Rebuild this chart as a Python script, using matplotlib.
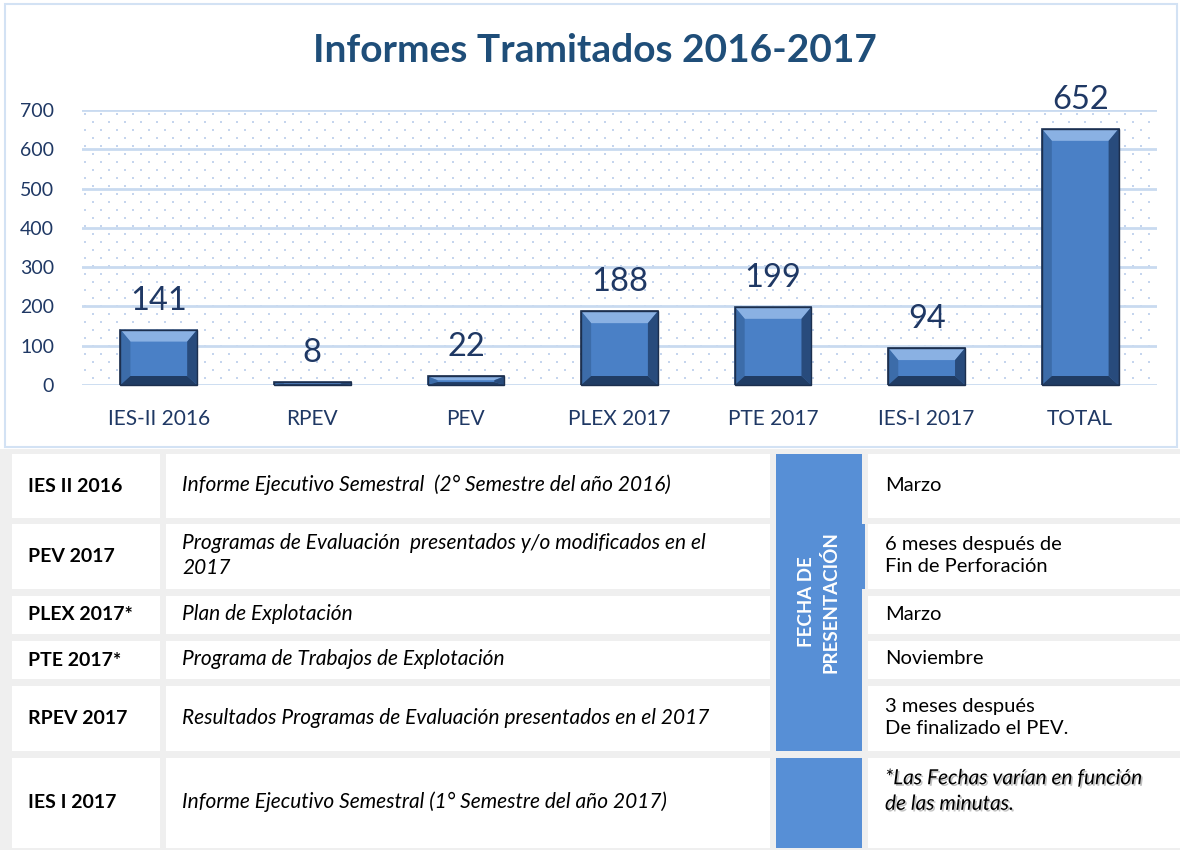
import matplotlib
matplotlib.use("Agg")
import matplotlib.pyplot as plt
import numpy as np
from matplotlib.patches import Rectangle, Polygon
from matplotlib.transforms import IdentityTransform
import matplotlib.patheffects as pe

plt.rcParams['font.family'] = ['Lato', 'DejaVu Sans']

# ---- data ----
categories = ["IES-II 2016", "RPEV", "PEV", "PLEX 2017", "PTE 2017", "IES-I 2017", "TOTAL"]
values = [141, 8, 22, 188, 199, 94, 652]
yticks = [0, 100, 200, 300, 400, 500, 600, 700]
title = "Informes Tramitados 2016-2017"

codes = ["IES II 2016", "PEV 2017", "PLEX 2017*", "PTE 2017*", "RPEV 2017", "IES I 2017"]
descriptions = [
    "Informe Ejecutivo Semestral  (2° Semestre del año 2016)",
    "Programas de Evaluación  presentados y/o modificados en el\n2017",
    "Plan de Explotación",
    "Programa de Trabajos de Explotación",
    "Resultados Programas de Evaluación presentados en el 2017",
    "Informe Ejecutivo Semestral (1° Semestre del año 2017)",
]
dates = ["Marzo", "6 meses después de\nFin de Perforación", "Marzo", "Noviembre",
         "3 meses después\nDe finalizado el PEV.", "*Las Fechas varían en función\nde las minutas."]
side_label = "FECHA DE\nPRESENTACIÓN"

W, H = 1180, 850
fig = plt.figure(figsize=(W / 100, H / 100), dpi=100)
fig.patch.set_facecolor("white")

navy = "#1F3864"

# ---- table / background axes (pixel coordinates) ----
tax = fig.add_axes([0, 0, 1, 1], zorder=0)
tax.set_xlim(0, W)
tax.set_ylim(H, 0)
tax.axis("off")

# chart border
tax.add_patch(Rectangle((5, 4), 1172, 443, facecolor="white", edgecolor="#D3E2F4", lw=1.5))
# table background
tax.add_patch(Rectangle((0, 449), W, H - 449, facecolor="#EFEFEF", edgecolor="none"))

row_tops = [454, 524, 596, 641, 686, 758]
row_bots = [518, 589, 634, 679, 751, 848]
cols = [(12, 160), (166, 770), (868, 1180)]
for t, b in zip(row_tops, row_bots):
    for x0, x1 in cols:
        tax.add_patch(Rectangle((x0, t), x1 - x0, b - t, facecolor="white", edgecolor="none"))

blue = "#578FD6"
tax.add_patch(Rectangle((776, 454), 86, 751 - 454, facecolor=blue, edgecolor="none"))
tax.add_patch(Rectangle((776, 524), 89, 589 - 524, facecolor=blue, edgecolor="none"))
tax.add_patch(Rectangle((776, 758), 86, 848 - 758, facecolor=blue, edgecolor="none"))
tax.text(819, 602, side_label, rotation=90, ha="center", va="center", color="white",
         fontsize=13.5, fontweight="bold", linespacing=1.4, multialignment="center")

for i, (t, b) in enumerate(zip(row_tops, row_bots)):
    yc = (t + b) / 2
    tax.text(28, yc, codes[i], ha="left", va="center", fontsize=14, fontweight="bold", color="black")
    tax.text(182, yc - 1, descriptions[i], ha="left", va="center", fontsize=15, style="italic",
             color="black", linespacing=1.35)
    if i == len(codes) - 1:
        tax.text(885, t + 33, dates[i], ha="left", va="center", fontsize=15, style="italic",
                 color="black", linespacing=1.35,
                 path_effects=[pe.withSimplePatchShadow(offset=(1.2, -1.2), shadow_rgbFace="#999999", alpha=0.6)])
    else:
        tax.text(885, yc - 1, dates[i], ha="left", va="center", fontsize=14.5, color="black", linespacing=1.4)

# ---- bar chart ----
left, right, top, bottom = 82, 1157, 110, 385
ax = fig.add_axes([left / W, 1 - bottom / H, (right - left) / W, (bottom - top) / H], zorder=2)
ax.set_facecolor("white")
x = np.arange(len(categories))
ax.set_xlim(-0.5, len(categories) - 0.5)
ax.set_ylim(0, 700)

# dotted background pattern (decoration, in axes fractions)
pw, ph = right - left, bottom - top
dots_x, dots_y = [], []
for k, yy in enumerate(np.arange(4, ph, 8)):
    off = 0 if k % 2 == 0 else 8
    for xx in np.arange(off + 3, pw, 16):
        dots_x.append(xx / pw)
        dots_y.append(1 - yy / ph)
ax.scatter(dots_x, dots_y, s=2.5, marker="s", color="#C5D5EE", linewidths=0,
           transform=ax.transAxes, zorder=0.5, clip_on=True)

ax.set_yticks(yticks)
ax.grid(axis="y", color="#C9DAF0", lw=2, zorder=1)
ax.set_axisbelow(True)
for s in ax.spines.values():
    s.set_visible(False)
ax.tick_params(length=0, labelcolor=navy)
ax.tick_params(axis="y", pad=20, labelsize=14)
ax.tick_params(axis="x", pad=17, labelsize=15)
ax.set_xticks(x)
ax.set_xticklabels(categories)

bw = 0.5
bars = ax.bar(x, values, width=bw, color="#4A80C6", edgecolor="#1C2F4E", lw=1.2, zorder=3)

fig.canvas.draw()
for xi, v in zip(x, values):
    (px0, py0) = ax.transData.transform((xi - bw / 2, 0))
    (px1, py1) = ax.transData.transform((xi + bw / 2, v))
    h = py1 - py0
    b = min(12.0, h * 0.45)
    bs = min(10.0, (px1 - px0) * 0.2)
    ix0, ix1 = px0 + bs, px1 - bs
    iy0, iy1 = py0 + b * 0.75, py1 - b
    faces = [
        ([(px0, py1), (px1, py1), (ix1, iy1), (ix0, iy1)], "#8AB1E3"),  # top
        ([(px0, py0), (px0, py1), (ix0, iy1), (ix0, iy0)], "#3C6CA9"),  # left
        ([(px1, py0), (px1, py1), (ix1, iy1), (ix1, iy0)], "#284B7C"),  # right
        ([(px0, py0), (px1, py0), (ix1, iy0), (ix0, iy0)], "#203C64"),  # bottom
    ]
    for pts, c in faces:
        fig.add_artist(Polygon(pts, closed=True, facecolor=c, edgecolor="none",
                               transform=IdentityTransform(), zorder=4))
    fig.add_artist(Rectangle((px0, py0), px1 - px0, h, facecolor="none", edgecolor="#1C2F4E",
                             lw=1.0, transform=IdentityTransform(), zorder=5))
    ax.annotate(str(v), (xi, v), xytext=(0, 10), textcoords="offset points", ha="center",
                va="bottom", fontsize=23.5, color=navy, annotation_clip=False, zorder=6)

fig.text(595 / W, 1 - 50 / H, title, ha="center", va="center",
         fontsize=28, fontweight="bold", color="#1F4E79")

fig.savefig("out.png", dpi=100, facecolor="white")
